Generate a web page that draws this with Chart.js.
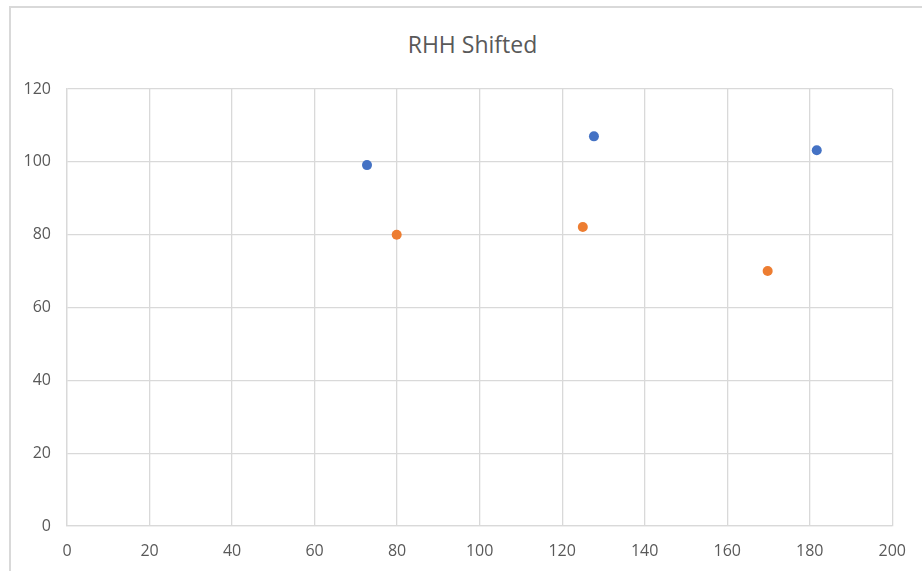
<!DOCTYPE html>
<html>
<head>
  <title>RHH Shifted</title>
  <script src="https://cdn.jsdelivr.net/npm/chart.js"></script>
  <style>
    body {
      margin: 0;
      background-color: #fff;
      overflow: hidden;
      font-family: 'Open Sans', sans-serif;
    }
    .frame {
      position: absolute;
      left: 9px;
      top: 6px;
      width: 1000px;
      height: 700px;
      border: 2px solid #d9d9d9;
    }
    .chart-title {
      position: absolute;
      left: 272px;
      width: 401px;
      top: 30px;
      text-align: center;
      font-size: 23px;
      line-height: 28px;
      color: #595959;
    }
    .chart-box {
      position: absolute;
      left: 0;
      top: 0;
      width: 922px;
      height: 571px;
    }
  </style>
</head>
<body>
  <div class="frame"></div>
  <div class="chart-title">RHH Shifted</div>
  <div class="chart-box">
    <canvas id="rhhChart"></canvas>
  </div>

  <script>
    // points (x, y)
    const blueX = [72.7, 127.7, 181.7];
    const blueY = [99.1, 107.0, 103.2];
    const orangeX = [79.9, 125.0, 169.8];
    const orangeY = [80.0, 82.1, 70.0];

    const xTicks = [0, 20, 40, 60, 80, 100, 120, 140, 160, 180, 200];
    const yTicks = [0, 20, 40, 60, 80, 100, 120];

    function toPoints(xs, ys) {
      return xs.map((x, i) => ({ x: x, y: ys[i] }));
    }

    Chart.defaults.font.family = "'Open Sans', sans-serif";
    Chart.defaults.color = '#595959';

    const ctx = document.getElementById('rhhChart').getContext('2d');

    const chart = new Chart(ctx, {
      type: 'scatter',
      data: {
        datasets: [
          {
            label: 'Series1',
            data: toPoints(blueX, blueY),
            backgroundColor: '#4472C4',
            borderColor: '#4472C4',
            pointRadius: 5,
            pointBorderWidth: 0
          },
          {
            label: 'Series2',
            data: toPoints(orangeX, orangeY),
            backgroundColor: '#ED7D31',
            borderColor: '#ED7D31',
            pointRadius: 5,
            pointBorderWidth: 0
          }
        ]
      },
      options: {
        responsive: true,
        maintainAspectRatio: false,
        animation: false,
        layout: {
          padding: { left: 0, right: 26, top: 89, bottom: 0 }
        },
        plugins: {
          legend: { display: false },
          tooltip: { enabled: false },
          title: { display: false }
        },
        scales: {
          x: {
            type: 'linear',
            min: xTicks[0],
            max: xTicks[xTicks.length - 1],
            afterBuildTicks: function(scale) {
              scale.ticks = xTicks.map(v => ({ value: v }));
            },
            afterFit: function(scale) {
              scale.height = 45;
            },
            grid: {
              color: '#d9d9d9',
              lineWidth: 1.3,
              drawTicks: false
            },
            border: { color: '#d9d9d9', width: 1.3 },
            ticks: {
              font: { size: 16 },
              padding: 16,
              maxRotation: 0
            }
          },
          y: {
            type: 'linear',
            min: yTicks[0],
            max: yTicks[yTicks.length - 1],
            afterBuildTicks: function(scale) {
              scale.ticks = yTicks.map(v => ({ value: v }));
            },
            afterFit: function(scale) {
              scale.width = 67;
            },
            grid: {
              color: '#d9d9d9',
              lineWidth: 1.3,
              drawTicks: false
            },
            border: { color: '#d9d9d9', width: 1.3 },
            ticks: {
              font: { size: 16 },
              padding: 16
            }
          }
        }
      }
    });
  </script>
</body>
</html>
